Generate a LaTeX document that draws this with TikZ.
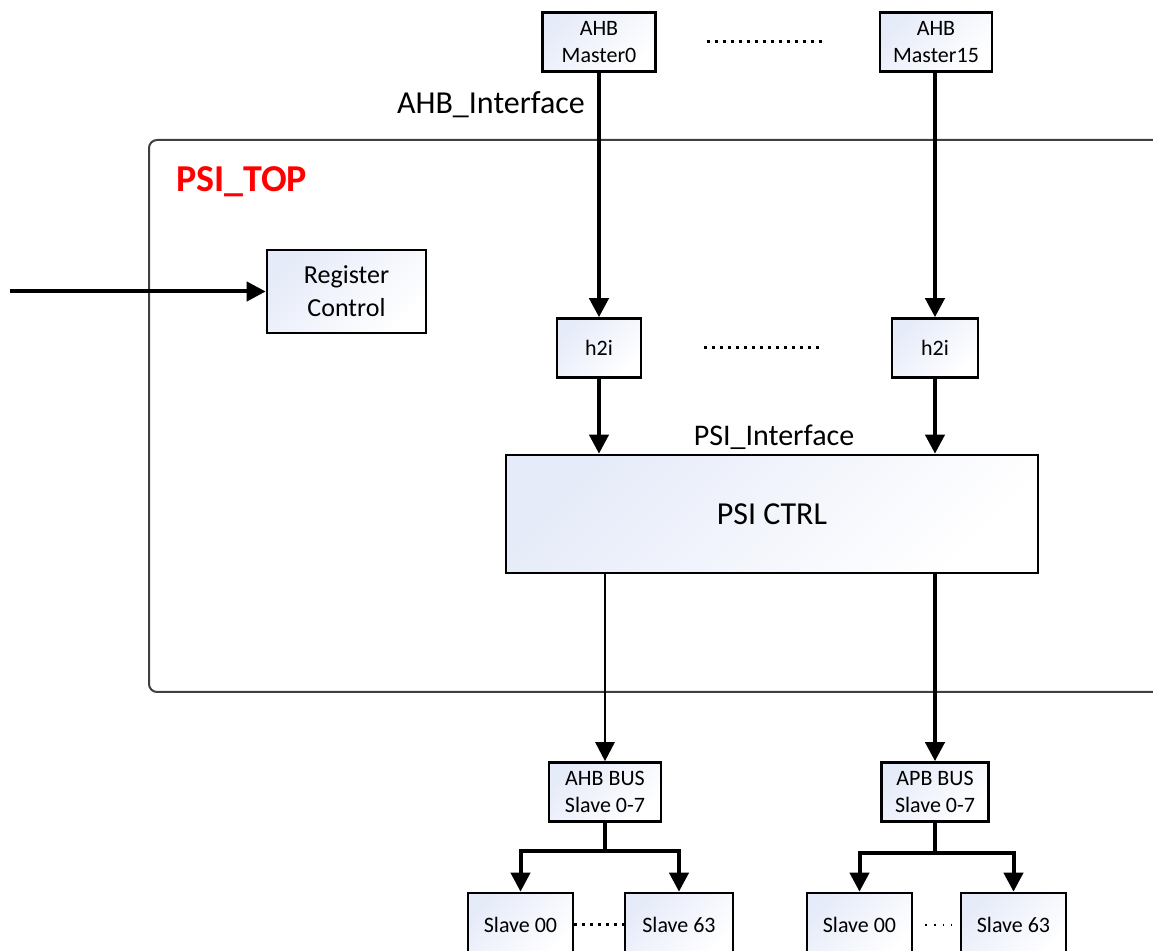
\documentclass[tikz,border=0pt]{standalone}
\usepackage{fontspec}
\setmainfont{Carlito}
\usepackage{xcolor}
\usepackage{tikz}
\usetikzlibrary{arrows.meta}

\definecolor{boxblue}{RGB}{230,235,249}
\tikzset{
  blk/.style={draw, line width=1.3pt, top color=boxblue, bottom color=white, shading angle=45,
    align=center, inner sep=0pt, font=\fontsize{11}{13.5}\selectfont},
  sig/.style={line width=2pt, -{Triangle[width=9.5pt,length=9.5pt]}},
  dots/.style={line width=1.5pt, dash pattern=on 1.5pt off 2.5pt},
}

\begin{document}
\begin{tikzpicture}[x=0.5pt,y=-0.5pt]
      \useasboundingbox (0,0) rectangle (1153,951);
      \clip (0,0) rectangle (1153,951);
      % PSI_TOP frame
      \draw[line width=1pt, black!75, rounded corners=4pt] (149,140) rectangle (1180,692);
      \node[anchor=west, text=red, font=\fontsize{19}{23}\selectfont\bfseries] (toplbl) at (169,182) {PSI\_TOP};
      % masters
      \node[blk, minimum width=56.5pt, minimum height=29.5pt] (m0) at (599,42) {AHB\\Master0};
      \node[blk, minimum width=56pt, minimum height=29.5pt] (m15) at (936,42) {AHB\\Master15};
      \draw[dots, shorten <=25pt, shorten >=27pt] (m0) -- (m15);
      \node[font=\fontsize{16}{19}\selectfont] (ahbif) at (491,105) {AHB\_Interface};
      % register control
      \coordinate (regin) at (10,291.5);
      \node[blk, font=\fontsize{13}{16.5}\selectfont, minimum width=79.5pt, minimum height=41.5pt] (reg) at (346.5,291.5) {Register\\Control};
      \draw[sig] (regin) -- (reg);
      % h2i
      \node[blk, minimum width=42pt, minimum height=29.5pt] (h2ia) at (599,348) {h2i};
      \node[blk, minimum width=43pt, minimum height=29.5pt] (h2ib) at (935,348) {h2i};
      \draw[dots, shorten <=31pt, shorten >=36pt] (h2ia) -- (h2ib);
      \draw[sig] (m0) -- (h2ia);
      \draw[sig] (m15.south -| h2ib) -- (h2ib);
      % ctrl
      \node[blk, font=\fontsize{16}{19}\selectfont, minimum width=266pt, minimum height=59pt] (ctrl) at (772,514) {PSI CTRL};
      \node[font=\fontsize{15}{18}\selectfont] (psiif) at (774,437) {PSI\_Interface};
      \draw[sig] (h2ia) -- (h2ia |- ctrl.north);
      \draw[sig] (h2ib) -- (h2ib |- ctrl.north);
      % buses
      \node[blk, minimum width=56pt, minimum height=29.5pt] (ahb) at (605,792) {AHB BUS\\Slave 0-7};
      \node[blk, minimum width=53.5pt, minimum height=29.5pt] (apb) at (935,792) {APB BUS\\Slave 0-7};
      \draw[sig, line width=1.3pt] (ahb |- ctrl.south) -- (ahb);
      \draw[sig] (apb |- ctrl.south) -- (apb);
      % slaves
      \node[blk, minimum width=52.5pt, minimum height=32pt] (s0a) at (520.5,925) {Slave 00};
      \node[blk, minimum width=54pt, minimum height=32pt] (s63a) at (679,925) {Slave 63};
      \node[blk, minimum width=52.5pt, minimum height=32pt] (s0b) at (859.5,925) {Slave 00};
      \node[blk, minimum width=52.5pt, minimum height=32pt] (s63b) at (1013.5,925) {Slave 63};
      \draw[sig] (ahb.south) -- ++(0,28) -| (s0a);
      \draw[sig] (ahb.south) -- ++(0,28) -| (s63a);
      \draw[sig] (apb.south) -- ++(0,30) -| (s0b);
      \draw[sig] (apb.south) -- ++(0,30) -| (s63b);
      \draw[dots] (s0a) -- (s63a);
      \draw[line width=0.8pt, dash pattern=on 0.8pt off 3.5pt, shorten <=6pt, shorten >=4pt] (s0b) -- (s63b);
\end{tikzpicture}
\end{document}
